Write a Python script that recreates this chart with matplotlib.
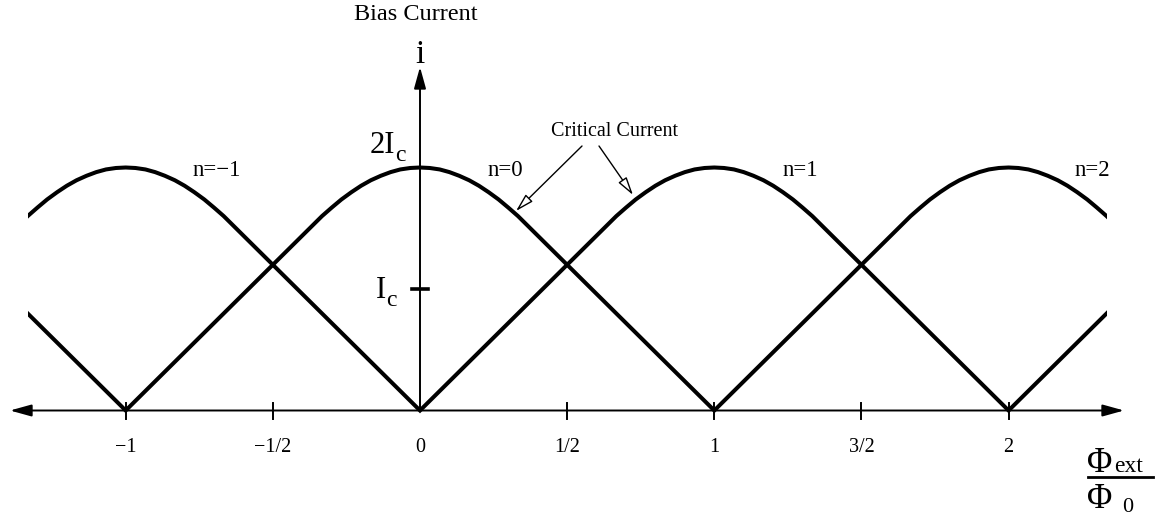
import matplotlib
matplotlib.use("Agg")
import matplotlib.pyplot as plt
from matplotlib.patches import Rectangle
import numpy as np

plt.rcParams['font.family'] = ['Liberation Serif', 'DejaVu Serif']

# Half of one critical-current arch (units of I_c) versus distance from its peak
arch_offset = [0.0, 0.033, 0.067, 0.1, 0.133, 0.167, 0.2, 0.233, 0.267, 0.3, 0.333, 1.0]
arch_value = [2.0, 1.996, 1.984, 1.962, 1.932, 1.895, 1.85, 1.797, 1.737, 1.67, 1.6, 0.0]

# Flux quantum numbers of the drawn branches and the flux window shown
branches_even = [-2, 0, 2]
branches_odd = [-1, 1, 3]
flux_min, flux_max = -4 / 3, 7 / 3

# Axis annotations
x_ticks = [-1, -0.5, 0.5, 1, 1.5, 2]
x_tick_labels_at = [-1, -0.5, 0, 0.5, 1, 1.5, 2]
x_tick_labels = ["\u22121", "\u22121/2", "0", "1/2", "1", "3/2", "2"]
branch_labels = ["n=\u22121", "n=0", "n=1", "n=2"]

# Pixel layout of the canvas
W, H = 1158, 517
X0, UX = 420.0, 294.3      # pixel of flux 0, pixels per flux quantum
Y0, UY = 410.5, 121.5      # pixel of zero current, pixels per I_c


def P(x, y):
    """Canvas pixel (from top-left) to data coordinates."""
    return (x - X0) / UX, (Y0 - y) / UY


fig = plt.figure(figsize=(W / 100, H / 100), dpi=100)
ax = fig.add_axes([0, 0, 1, 1])
ax.set_xlim(-X0 / UX, (W - X0) / UX)
ax.set_ylim((Y0 - H) / UY, Y0 / UY)
ax.axis('off')

# One full arch, mirrored about its peak
off = np.array(arch_offset)
val = np.array(arch_value)
full_off = np.concatenate([-off[::-1], off[1:]])
full_val = np.concatenate([val[::-1], val[1:]])


def chain(ns):
    xs, ys = [], []
    for k, n in enumerate(ns):
        x = n + full_off
        y = full_val
        if k > 0:
            x, y = x[1:], y[1:]
        xs.append(x)
        ys.append(y)
    return np.concatenate(xs), np.concatenate(ys)


clip = Rectangle((flux_min, -1), flux_max - flux_min, 6, transform=ax.transData)
for ns in (branches_even, branches_odd):
    cx, cy = chain(ns)
    ln, = ax.plot(cx, cy, color='black', lw=2.9, solid_joinstyle='miter',
                  solid_capstyle='butt', zorder=3)
    ln.set_clip_path(clip)

# Axes with arrowheads
xl, _ = P(10, 0)
xr, _ = P(1124, 0)
ax.annotate('', xy=(xr, 0), xytext=(xl, 0),
            arrowprops=dict(arrowstyle='<|-|>,head_length=1.3,head_width=0.36',
                            lw=1.4, color='black', shrinkA=0, shrinkB=0,
                            mutation_scale=10), zorder=2)
_, yt = P(0, 67)
ax.annotate('', xy=(0, yt), xytext=(0, 0),
            arrowprops=dict(arrowstyle='-|>,head_length=1.3,head_width=0.36',
                            lw=1.4, color='black', shrinkA=0, shrinkB=0,
                            mutation_scale=10), zorder=2)

tick_half = 8 / UY
for t in x_ticks:
    ax.plot([t, t], [-tick_half, tick_half], color='black', lw=1.4, zorder=2)
for t, lab in zip(x_tick_labels_at, x_tick_labels):
    _, ty = P(0, 448)
    ax.text(t, ty, lab, ha='center', va='center', fontsize=14.5)

# I_c tick on the current axis
ax.plot([-8 / UX, 8 / UX], [1, 1], color='black', lw=2.6, zorder=2)

# Axis titles
ax.text(*P(416, 14), "Bias Current", ha='center', va='center', fontsize=17.5)
ax.text(*P(420, 63), "i", ha='center', va='baseline', fontsize=24)
ax.text(*P(395, 153), "2I", ha='right', va='baseline', fontsize=22)
ax.text(*P(395, 161), "c", ha='left', va='baseline', fontsize=17)
ax.text(*P(386, 298), "I", ha='right', va='baseline', fontsize=22)
ax.text(*P(386, 306), "c", ha='left', va='baseline', fontsize=17)

# Flux ratio label
ax.text(*P(1087, 472), "\u03a6", ha='left', va='baseline', fontsize=25)
ax.text(*P(1114, 472), "ext", ha='left', va='baseline', fontsize=17)
ax.plot([P(1088, 0)[0], P(1153, 0)[0]], [P(0, 477)[1]] * 2, color='black', lw=2)
ax.text(*P(1087, 508), "\u03a6", ha='left', va='baseline', fontsize=25)
ax.text(*P(1122, 512), "0", ha='left', va='baseline', fontsize=16)

# Branch labels
for (px, py), lab in zip([(217, 171), (505, 171), (800, 171), (1092, 171)], branch_labels):
    ax.text(*P(px, py), lab, ha='center', va='center', fontsize=16.5)

# Critical current callout
ax.text(*P(551, 131), "Critical Current", ha='left', va='center', fontsize=14.5)
hollow = dict(arrowstyle='-|>,head_length=1.1,head_width=0.3', lw=1.0,
              ec='black', fc='white', shrinkA=0, shrinkB=0, mutation_scale=10)
ax.annotate('', xy=P(516, 211), xytext=P(582, 146), arrowprops=hollow, zorder=4)
ax.annotate('', xy=P(633, 195), xytext=P(599, 146), arrowprops=hollow, zorder=4)

fig.savefig("out.png", dpi=100, facecolor='white')
